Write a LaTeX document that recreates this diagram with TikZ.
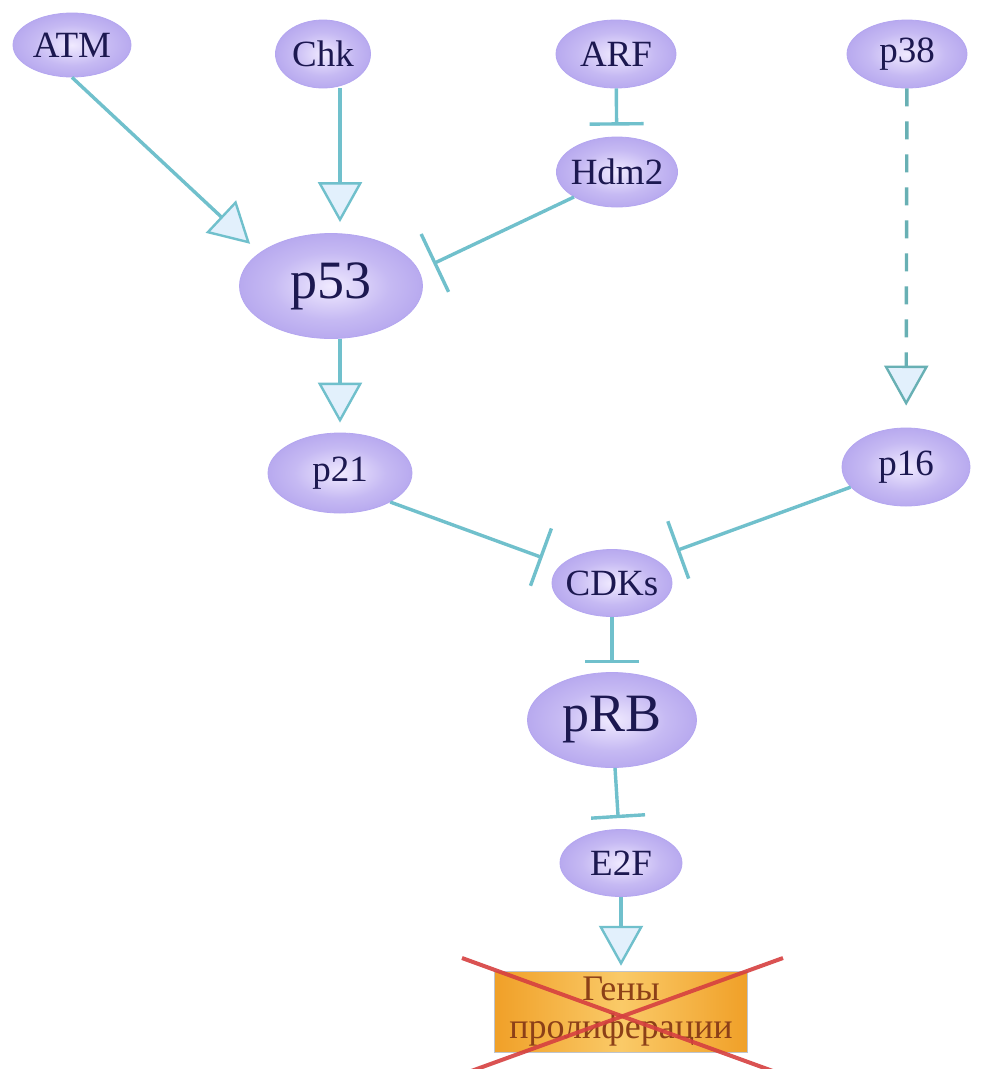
\documentclass[tikz,border=0pt]{standalone}
\usepackage{fontspec}
\setmainfont{Liberation Serif}
\usetikzlibrary{arrows.meta, shapes.geometric, calc}

\definecolor{protin}{RGB}{240,234,255}
\definecolor{protout}{RGB}{146,126,228}
\definecolor{protline}{RGB}{180,166,240}
\definecolor{protext}{RGB}{28,24,80}
\definecolor{linkcol}{RGB}{112,192,204}
\definecolor{dashcol}{RGB}{104,176,180}
\definecolor{headcol}{RGB}{226,240,252}
\definecolor{boxedge}{RGB}{240,160,40}
\definecolor{boxmid}{RGB}{250,202,104}
\definecolor{boxline}{RGB}{190,196,206}
\definecolor{boxtext}{RGB}{140,64,24}
\definecolor{crosscol}{RGB}{214,64,64}

\pgfdeclareradialshading{protshade}{\pgfpoint{0bp}{0bp}}{color(0bp)=(protin); color(16bp)=(protin!55!protout); color(50bp)=(protout); color(72bp)=(protout)}

\begin{document}
\begin{tikzpicture}[
x=1pt, y=-1pt,
prot/.style={ellipse, shading=protshade, draw=protline, line width=0.8pt, text=protext, inner xsep=-8pt, inner ysep=0pt, font=\fontsize{37}{39}\selectfont},
bigprot/.style={prot, font=\fontsize{54}{56}\selectfont},
act/.style={draw=linkcol, line width=3.4pt, -{Triangle[length=40pt, width=44pt, fill=headcol, line width=2.4pt]}},
inh/.style={draw=linkcol, line width=3.4pt, -{Bar[width=56pt]}},
genebox/.style={rectangle, left color=boxedge, right color=boxedge, middle color=boxmid, draw=boxline, line width=1.5pt, text=boxtext, align=center, inner sep=0pt, minimum width=253pt, minimum height=81pt, font=\fontsize{36}{38}\selectfont},
crossline/.style={draw=crosscol, line width=4pt, opacity=0.9}
]
\useasboundingbox[fill=white] (0,0) rectangle (981,1069);

%Nodes
\node[prot, minimum width=118pt, minimum height=64pt]    (ATM)  at (72,45)   {ATM};
\node[prot, minimum width=95pt,  minimum height=68pt]    (Chk)  at (323,54)  {Chk};
\node[prot, minimum width=120pt, minimum height=68pt]    (ARF)  at (616,54)  {ARF};
\node[prot, minimum width=121pt, minimum height=70pt]    (Hdm2) at (617,172) {Hdm2};
\node[prot, minimum width=120pt, minimum height=68pt]    (p38)  at (907,54)  {p38};
\node[bigprot, minimum width=183pt, minimum height=105pt] (p53) at (331,286) {p53};
\node[prot, minimum width=144pt, minimum height=80pt]    (p21)  at (340,473) {p21};
\node[prot, minimum width=128pt, minimum height=78pt]    (p16)  at (906,467) {p16};
\node[prot, minimum width=120pt, minimum height=67pt]    (CDKs) at (612,583) {CDKs};
\node[bigprot, minimum width=169pt, minimum height=95pt] (pRB)  at (612,720) {pRB};
\node[prot, minimum width=122pt, minimum height=67pt]    (E2F)  at (621,863) {E2F};
\node[genebox]                                           (genes) at (621,1012) {Гены\\пролиферации};

%Lines
\draw[act, shorten >=13pt] (ATM.south) -- (p53.155);
\draw[act, shorten >=11pt] (Chk.south -| p21.north) -- (p53.north -| p21.north);
\draw[inh, -{Bar[width=54pt]}, shorten >=11pt] (ARF) -- (Hdm2);
\draw[inh, -{Bar[width=64pt]}, shorten >=16pt] (Hdm2.south west) -- (p53.10);
\draw[act, shorten >=10pt] (p53.south -| p21.north) -- (p21.north);
\draw[act, draw=dashcol, dash pattern=on 18pt off 15pt, shorten >=22pt] (p38) -- (p16);
\draw[inh, -{Bar[width=61pt]}, shorten >=20pt] (p21.-30) -- (CDKs.160);
\draw[inh, -{Bar[width=61pt]}, shorten >=24pt] (p16.200) -- (CDKs.30);
\draw[inh, -{Bar[width=54pt]}, shorten >=9pt] (CDKs) -- (pRB);
\draw[inh, -{Bar[width=54pt]}, shorten >=11pt] (pRB) -- (E2F);
\draw[act, shorten >=5pt] (E2F) -- (genes);

%Cross over the genes
\draw[crossline] ($(genes.center)+(-159,-54)$) -- ($(genes.center)+(160,62)$);
\draw[crossline] ($(genes.center)+(162,-54)$) -- ($(genes.center)+(-158,62)$);
\end{tikzpicture}
\end{document}
